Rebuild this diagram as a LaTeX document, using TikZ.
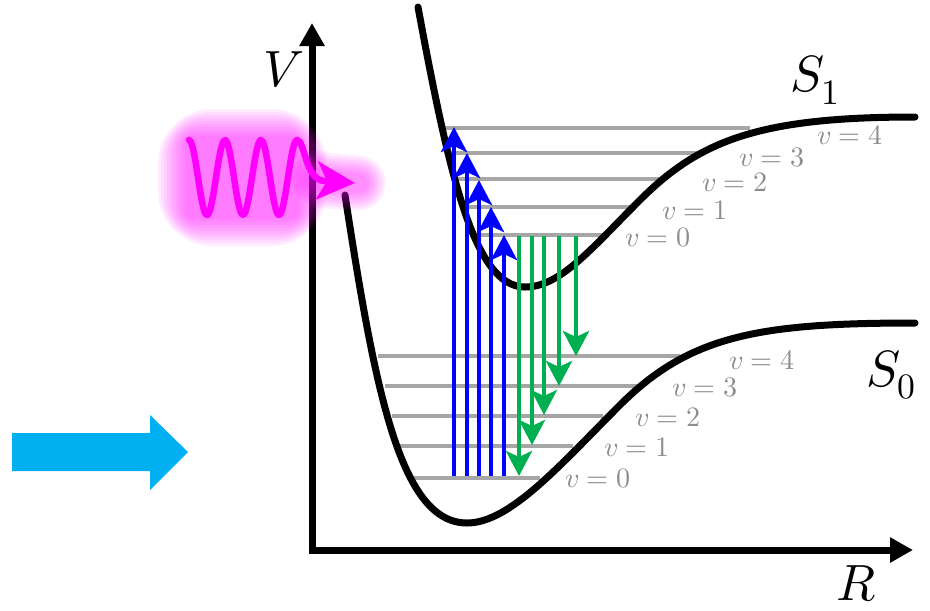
\documentclass[tikz,border=0pt]{standalone}
\usepackage{unicode-math}
\usepackage{xcolor}
\usetikzlibrary{arrows.meta}
\definecolor{absblue}{HTML}{0000FF}
\definecolor{emgreen}{HTML}{00B050}
\definecolor{levelgray}{HTML}{A6A6A6}
\definecolor{labelgray}{HTML}{8C8C8C}
\definecolor{photon}{HTML}{FF00FF}
\definecolor{skyarrow}{HTML}{00B0F0}
\tikzset{
  axisline/.style={
    draw=black, line width=0.14cm, line join=miter,
    {Triangle[length=0.46cm, width=0.48cm]}-{Triangle[length=0.46cm, width=0.48cm]}
  },
  pescurve/.style={draw=black, line width=0.14cm, line cap=round},
  levelline/.style={draw=levelgray, line width=0.08cm},
  transarrow/.style={
    -{Stealth[length=0.5cm, width=0.52cm, inset=0.12cm]}, line width=0.09cm, color=#1
  },
  transarrow/.default=absblue,
  vlabel/.style={
    font=\fontsize{16}{19}\selectfont, text=labelgray, inner sep=0pt
  },
  axislabel/.style={
    font=\fontsize{29}{34}\selectfont, inner sep=0pt
  },
  photonline/.style={
    draw=photon, line width=0.13cm, line cap=round, line join=round,
    -{Stealth[length=0.76cm, width=0.76cm, inset=0.2cm]}
  },
}

\begin{document}
\begin{tikzpicture}[x=0.02cm, y=-0.02cm]
  \useasboundingbox (0,0) rectangle (930,610);

  % axes
  \draw[axisline] (312,23) -- (312,550) -- (913,550);
  \node[axislabel] (vlab) at (284,70) {$V$};
  \node[axislabel] (rlab) at (856,584) {$R$};

  % vibrational levels, S1
  \draw[levelline] (445,128) -- (750,128);
  \draw[levelline] (449,153) -- (703,153);
  \draw[levelline] (455,179) -- (660,179);
  \draw[levelline] (462,207) -- (630,207);
  \draw[levelline] (470,235) -- (603,235);
  % vibrational levels, S0
  \draw[levelline] (378,356) -- (680,356);
  \draw[levelline] (385,386) -- (640,386);
  \draw[levelline] (392,416) -- (603,416);
  \draw[levelline] (398,446) -- (573,446);
  \draw[levelline] (413,478) -- (540,478);

  % potential curves
  \draw[pescurve] (345,195) .. controls (375,390) and (400,523) .. (467,523)
    .. controls (510,523) and (560,465) .. (620,405)
    .. controls (690,335) and (760,323) .. (915,323);
  \draw[pescurve] (418,7) .. controls (450,180) and (475,287) .. (525,287)
    .. controls (560,287) and (590,250) .. (640,200)
    .. controls (700,140) and (760,117) .. (915,117);
  \node[axislabel] (s1lab) at (815,80) {$S_1$};
  \node[axislabel] (s0lab) at (891,375) {$S_0$};

  % level labels
  \node[vlabel] (s1v4) at (850,135) {$v=4$};
  \node[vlabel] (s1v3) at (772,157) {$v=3$};
  \node[vlabel] (s1v2) at (735,182) {$v=2$};
  \node[vlabel] (s1v1) at (695,210) {$v=1$};
  \node[vlabel] (s1v0) at (658,237) {$v=0$};
  \node[vlabel] (s0v4) at (762,360) {$v=4$};
  \node[vlabel] (s0v3) at (705,387) {$v=3$};
  \node[vlabel] (s0v2) at (668,417) {$v=2$};
  \node[vlabel] (s0v1) at (637,447) {$v=1$};
  \node[vlabel] (s0v0) at (598,478) {$v=0$};

  % absorption
  \draw[transarrow] (454,476) -- (454,127);
  \draw[transarrow] (467,476) -- (467,153);
  \draw[transarrow] (479,476) -- (479,180);
  \draw[transarrow] (491,476) -- (491,207);
  \draw[transarrow] (504,476) -- (504,235);
  % emission
  \draw[transarrow=emgreen] (519,236) -- (519,476);
  \draw[transarrow=emgreen] (532,236) -- (532,445);
  \draw[transarrow=emgreen] (544,236) -- (544,415);
  \draw[transarrow=emgreen] (559,236) -- (559,386);
  \draw[transarrow=emgreen] (576,236) -- (576,356);

  % incoming photon with glow
  \foreach \d in {4,7,...,31}
    \fill[photon, opacity=0.07, rounded corners=\d pt]
      ({189-\d},{140-\d}) rectangle ({295+\d},{215+\d});
  \foreach \w in {1.1,1.0,...,0.35}
    \draw[photon, line width=\w cm, opacity=0.07, line cap=round]
      (318,178) .. controls (322,181) .. (330,181) -- (358,183);
  \draw[photonline]
    plot[domain=189:297, samples=60, smooth] (\x, {177.5-37.5*cos(10*(\x-189))})
    .. controls (305,140) and (305,181) .. (325,181) -- (355,183);

  % block arrow
  \fill[skyarrow] (12,433) -- (150,433) -- (150,415) -- (188,452)
    -- (150,490) -- (150,471) -- (12,471) -- cycle;
\end{tikzpicture}
\end{document}
